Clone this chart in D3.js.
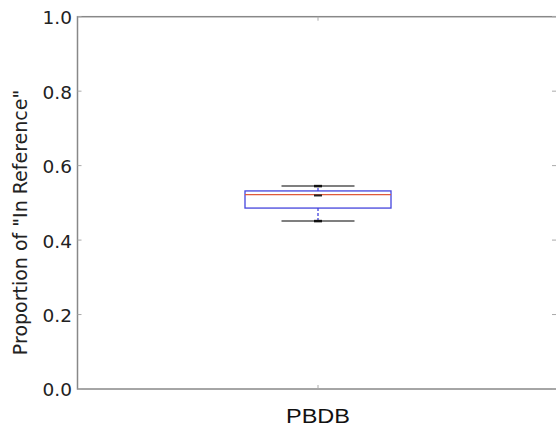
<!DOCTYPE html>
<html><head><meta charset="utf-8">
<script src="https://cdn.jsdelivr.net/npm/d3@7"></script>
<style>body{margin:0;background:#fff;} svg{display:block;}</style>
</head><body>
<script>
const categories = ["PBDB"];
const whiskerLow = [0.451];
const q1 = [0.486];
const median = [0.522];
const q3 = [0.532];
const whiskerHigh = [0.545];
const yTicks = [0.0, 0.2, 0.4, 0.6, 0.8, 1.0];

const W = 556, H = 432;
const m = {left: 77.5, top: 16.7, right: 558.5, bottom: 389};
const svg = d3.select("body").append("svg").attr("width", W).attr("height", H);

const y = d3.scaleLinear().domain([0, 1]).range([m.bottom, m.top]);
const x = d3.scaleBand().domain(categories).range([m.left, m.right]).padding(0.5);
const xc = c => x(c) + x.bandwidth() / 2;

// spines
const spine = "#888";
svg.append("rect").attr("x", m.left).attr("y", m.top).attr("width", m.right - m.left)
  .attr("height", m.bottom - m.top).attr("fill", "none").attr("stroke", spine).attr("stroke-width", 1.5);

// y ticks (inward) left and right
yTicks.forEach(t => {
  svg.append("line").attr("x1", m.left).attr("x2", m.left + 4).attr("y1", y(t)).attr("y2", y(t))
    .attr("stroke", "#aaa").attr("stroke-width", 1);
  svg.append("line").attr("x1", m.right - 4 - 2.5).attr("x2", m.right - 2.5).attr("y1", y(t)).attr("y2", y(t))
    .attr("stroke", "#aaa").attr("stroke-width", 1);
});
const yAxis = d3.axisLeft(y).tickValues(yTicks).tickFormat(d3.format(".1f")).tickSize(0).tickPadding(5.5);
const ga = svg.append("g").attr("transform", `translate(${m.left},1)`).call(yAxis);
ga.select(".domain").remove();
ga.selectAll("text").attr("font-family", "DejaVu Sans").attr("font-size", 18.5).attr("fill", "#222");

// x axis
categories.forEach(c => {
  svg.append("line").attr("x1", xc(c)).attr("x2", xc(c)).attr("y1", m.bottom).attr("y2", m.bottom - 4)
    .attr("stroke", "#aaa");
  svg.append("line").attr("x1", xc(c)).attr("x2", xc(c)).attr("y1", m.top).attr("y2", m.top + 4)
    .attr("stroke", "#aaa");
  svg.append("text").attr("x", xc(c)).attr("y", 422.7).attr("text-anchor", "middle")
    .attr("font-family", "Liberation Sans, Arial").attr("font-size", 20.5)
    .attr("textLength", 64).attr("lengthAdjust", "spacingAndGlyphs").attr("fill", "#111").text(c);
});

// y label
svg.append("text").attr("transform", `translate(27,222.5) rotate(-90)`)
  .attr("text-anchor", "middle").attr("font-family", "DejaVu Sans").attr("font-size", 19).attr("fill", "#222")
  .text('Proportion of "In Reference"');

// box plot
const boxW = 146, capW = 73;
categories.forEach((c, i) => {
  const cx = xc(c);
  const g = svg.append("g");
  g.append("line").attr("x1", cx).attr("x2", cx).attr("y1", y(q3[i])).attr("y2", y(whiskerHigh[i]))
    .attr("stroke", "#3333dd").attr("stroke-dasharray", "3,2").attr("stroke-width", 1.2);
  g.append("line").attr("x1", cx).attr("x2", cx).attr("y1", y(q1[i])).attr("y2", y(whiskerLow[i]))
    .attr("stroke", "#3333dd").attr("stroke-dasharray", "3,2").attr("stroke-width", 1.2);
  [whiskerLow[i], whiskerHigh[i]].forEach(v => {
    g.append("line").attr("x1", cx - capW / 2).attr("x2", cx + capW / 2).attr("y1", y(v)).attr("y2", y(v))
      .attr("stroke", "#555").attr("stroke-width", 1.5);
    g.append("line").attr("x1", cx - 4).attr("x2", cx + 4).attr("y1", y(v)).attr("y2", y(v))
      .attr("stroke", "#111").attr("stroke-width", 2.5);
  });
  g.append("rect").attr("x", cx - boxW / 2).attr("y", y(q3[i])).attr("width", boxW)
    .attr("height", y(q1[i]) - y(q3[i])).attr("fill", "none").attr("stroke", "#4444dd").attr("stroke-width", 1.3);
  g.append("line").attr("x1", cx - boxW / 2).attr("x2", cx + boxW / 2).attr("y1", y(median[i])).attr("y2", y(median[i]))
    .attr("stroke", "#e05a3a").attr("stroke-width", 1.2);
  g.append("line").attr("x1", cx - 4).attr("x2", cx + 4).attr("y1", y(median[i]) + 0.8).attr("y2", y(median[i]) + 0.8)
    .attr("stroke", "#222").attr("stroke-width", 2);
});
</script>
</body></html>
